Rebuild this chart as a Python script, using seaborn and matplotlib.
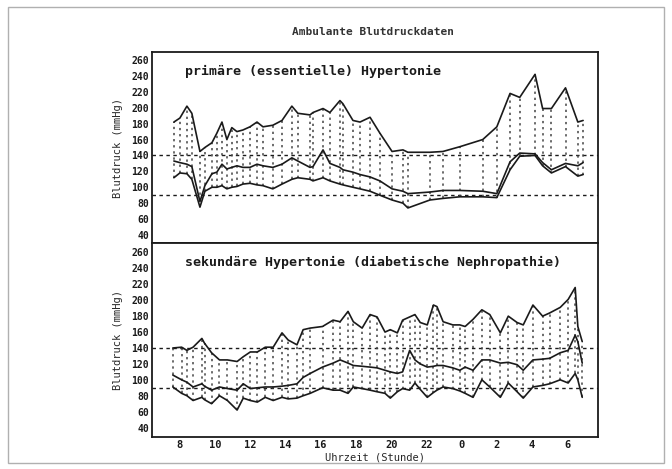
import numpy as np
import pandas as pd
import matplotlib
matplotlib.use("Agg")
import matplotlib.pyplot as plt
from matplotlib.patches import Rectangle
import seaborn as sns

# --- Daten: primaere (essentielle) Hypertonie ---
# Uhrzeit als fortlaufende Stunden (24 = 0 Uhr, 30 = 6 Uhr)
zeit_prim = [7.66, 8.0, 8.4, 8.68, 9.14, 9.42, 9.82, 10.1, 10.39, 10.67, 10.95,
             11.24, 11.58, 11.98, 12.38, 12.72, 13.28, 13.8, 14.36, 14.7, 15.39,
             15.56, 16.13, 16.52, 17.09, 17.26, 17.83, 18.23, 18.8, 19.36, 20.05,
             20.67, 20.95, 22.2, 22.94, 23.9, 25.2, 26.0, 26.75, 27.3, 28.17,
             28.6, 29.1, 29.9, 30.6, 30.9]
sys_prim = [182, 187, 202, 193, 145, 150, 156, 168, 182, 160, 175,
            170, 172, 176, 182, 176, 178, 184, 202, 193, 191,
            194, 199, 194, 209, 205, 184, 182, 188, 168, 145,
            147, 144, 144, 145, 151, 160, 176, 218, 213, 242,
            199, 199, 225, 182, 184]
mit_prim = [133, 131, 129, 126, 82, 102, 117, 119, 129, 123, 125,
            127, 125, 125, 129, 127, 125, 129, 137, 133, 125,
            126, 147, 130, 125, 122, 119, 116, 113, 108, 98,
            95, 92, 94, 96, 96, 95, 92, 132, 143, 142,
            131, 122, 130, 127, 131]
dia_prim = [112, 118, 117, 110, 75, 95, 100, 100, 102, 98, 100,
            101, 104, 105, 103, 102, 98, 104, 110, 112, 110,
            108, 112, 108, 104, 103, 100, 98, 95, 90, 84,
            80, 74, 84, 86, 88, 88, 87, 122, 139, 140,
            127, 118, 126, 114, 116]

# --- Daten: sekundaere Hypertonie (diabetische Nephropathie) ---
zeit_sek = [7.6, 8.1, 8.4, 8.75, 9.25, 9.4, 9.8, 10.25, 10.7, 11.25, 11.6,
            12.0, 12.4, 12.85, 13.3, 13.8, 14.15, 14.65, 15.0, 15.4, 16.1,
            16.7, 17.1, 17.55, 17.85, 18.35, 18.8, 19.2, 19.65, 19.95, 20.35,
            20.65, 21.05, 21.35, 21.65, 22.05, 22.4, 22.6, 22.95, 23.5, 23.9,
            24.2, 24.65, 25.15, 25.6, 26.2, 26.65, 27.15, 27.5, 28.05, 28.6,
            29.0, 29.6, 30.05, 30.45, 30.6, 30.85]
sys_sek = [140, 141, 137, 141, 152, 146, 134, 125, 125, 123, 129,
           135, 135, 141, 141, 159, 150, 144, 163, 165, 167,
           175, 173, 186, 173, 165, 182, 179, 160, 163, 159,
           175, 179, 182, 172, 169, 194, 192, 173, 169, 169,
           167, 176, 188, 182, 159, 180, 172, 169, 194, 180,
           184, 191, 201, 216, 167, 148]
mit_sek = [106, 100, 97, 91, 95, 92, 87, 91, 89, 87, 95,
           89, 90, 91, 91, 92, 93, 95, 103, 108, 116,
           121, 125, 121, 118, 117, 116, 115, 112, 110, 108,
           110, 137, 125, 120, 116, 117, 118, 118, 115, 112,
           116, 112, 125, 125, 121, 122, 119, 112, 125, 126,
           127, 134, 137, 156, 148, 121]
dia_sek = [91, 83, 80, 74, 78, 75, 70, 80, 74, 62, 77,
           74, 72, 78, 74, 78, 76, 77, 80, 83, 90,
           87, 87, 83, 91, 89, 87, 85, 83, 77, 85,
           89, 87, 96, 88, 78, 84, 87, 91, 89, 86,
           83, 78, 100, 91, 78, 96, 85, 77, 91, 93,
           95, 100, 96, 108, 100, 78]

y_ticks = list(range(40, 261, 20))
x_ticks = [8, 10, 12, 14, 16, 18, 20, 22, 24, 26, 28, 30]
x_labels = ["8", "10", "12", "14", "16", "18", "20", "22", "0", "2", "4", "6"]

sns.set_theme(style="white")
plt.rcParams['font.family'] = ['DejaVu Sans Mono']
plt.rcParams['font.weight'] = 'bold'

INK = "#1a1a1a"

fig = plt.figure(figsize=(6.72, 4.69), dpi=100)
fig.patches.append(Rectangle((0.012, 0.013), 0.976, 0.972, transform=fig.transFigure,
                             fill=False, edgecolor="#b0b0b0", linewidth=1.0))
fig.text(0.555, 0.932, "Ambulante Blutdruckdaten", ha="center", va="center",
         fontsize=8, color="#333333")

ax1 = fig.add_axes([0.226, 0.482, 0.664, 0.407])
ax2 = fig.add_axes([0.226, 0.068, 0.664, 0.414], sharex=ax1)


def zeichne(ax, zeit, sys, mit, dia, titel, ylim):
    df = pd.DataFrame({"zeit": zeit, "sys": sys, "mit": mit, "dia": dia})
    ax.axhline(140, color=INK, linestyle=(0, (2.5, 2.5)), linewidth=1.0)
    ax.axhline(90, color=INK, linestyle=(0, (2.5, 2.5)), linewidth=1.0)
    ax.vlines(df["zeit"], df["dia"], df["sys"], colors="#444444",
              linestyles=(0, (1.5, 2.5)), linewidth=1.1)
    for spalte in ["sys", "mit", "dia"]:
        sns.lineplot(data=df, x="zeit", y=spalte, ax=ax, color=INK,
                     linewidth=1.2, estimator=None, sort=False, legend=False)
    ax.set_ylim(*ylim)
    ax.set_yticks(y_ticks)
    ax.set_yticklabels([str(v) for v in y_ticks], fontsize=7)
    ax.set_yticks(range(30, 271, 10), minor=True)
    ax.set_ylabel("Blutdruck (mmHg)", fontsize=7.5, labelpad=6)
    ax.text(0.075, 0.9, titel, transform=ax.transAxes, fontsize=9.5,
            ha="left", va="center", color=INK)
    for s in ax.spines.values():
        s.set_color(INK)
        s.set_linewidth(1.3)
    ax.tick_params(axis="both", which="major", direction="in", length=3,
                   width=1, colors=INK, pad=2)
    ax.tick_params(axis="both", which="minor", direction="in", length=2,
                   width=1, colors=INK)


zeichne(ax1, zeit_prim, sys_prim, mit_prim, dia_prim,
        "primäre (essentielle) Hypertonie", (32.5, 268))
zeichne(ax2, zeit_sek, sys_sek, mit_sek, dia_sek,
        "sekundäre Hypertonie (diabetische Nephropathie)", (28, 272))

ax2.set_xlim(6.41, 31.75)
ax2.set_xticks(x_ticks)
ax2.set_xticklabels(x_labels, fontsize=7.5)
ax2.set_xticks(range(7, 32, 2), minor=True)
ax2.set_xlabel("Uhrzeit (Stunde)", fontsize=7.5, labelpad=2)
ax1.tick_params(axis="x", labelbottom=False)
ax1.set_xlabel("")

fig.savefig("out.png", dpi=100)
